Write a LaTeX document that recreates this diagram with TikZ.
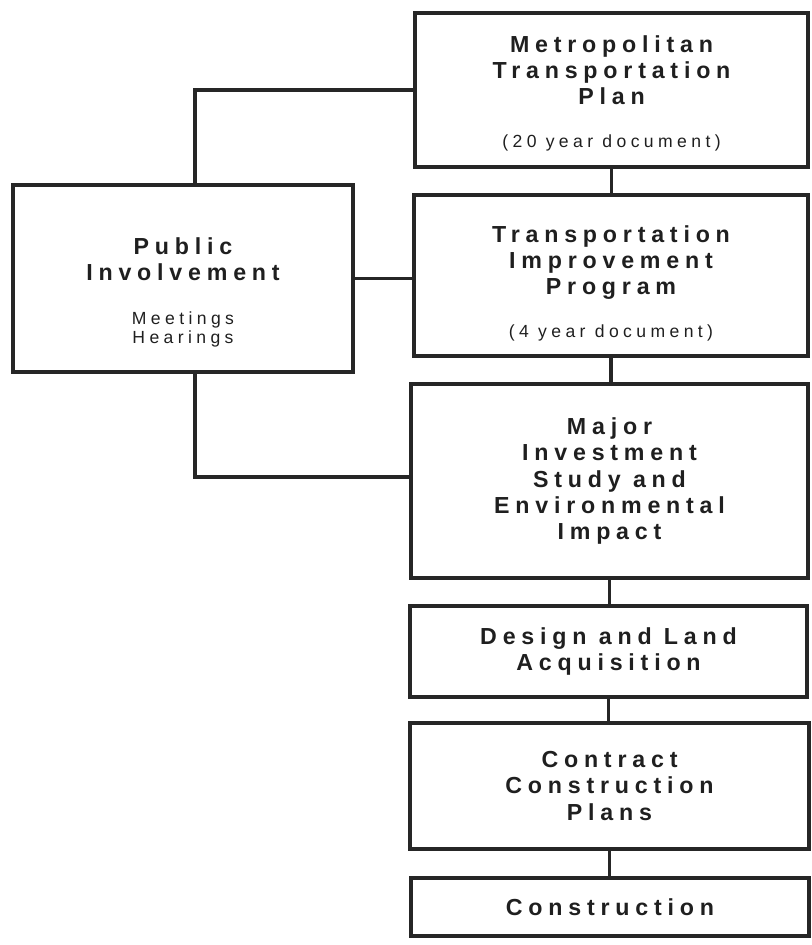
\documentclass[tikz,border=0pt]{standalone}
\usepackage{fontspec}
\setmainfont[LetterSpace=25]{Liberation Sans}
\newcommand{\docnote}[1]{{\fontsize{12.5}{13.5}\selectfont\mdseries #1}}
\newcommand{\padtop}[1]{\rule{0pt}{#1}}

\begin{document}
\begin{tikzpicture}[x=0.025cm, y=-0.025cm,
  stage/.style={draw=black!85, line width=2.4pt, align=center, inner sep=0pt,
    font=\fontsize{16.5}{18.5}\selectfont\bfseries, text=black!88},
  link/.style={draw=black!85, line width=2.2pt}]
\useasboundingbox (0,0) rectangle (811,945);
\node[stage, minimum width=9.825cm, minimum height=3.85cm] (plan) at (611.5,90)
  {\padtop{17pt}Metropolitan\\Transportation\\Plan\\[12pt]\docnote{(20 year document)}};
\node[stage, minimum width=9.85cm, minimum height=4.025cm] (tip) at (611,275.5)
  {\padtop{23pt}Transportation\\Improvement\\Program\\[12.5pt]\docnote{(4 year document)}};
\node[stage, minimum width=9.925cm, minimum height=4.85cm] (mis) at (609.5,481)
  {Major\\Investment\\Study and\\Environmental\\Impact}; % study
\node[stage, minimum width=9.925cm, minimum height=2.275cm] (design) at (608.5,651.5)
  {Design and Land\\Acquisition};
\node[stage, minimum width=9.975cm, minimum height=3.15cm] (plans) at (609.5,786)
  {Contract\\Construction\\Plans};
\node[stage, minimum width=9.95cm, minimum height=1.45cm] (build) at (610,907)
  {Construction}; % main chain
\node[stage, minimum width=8.5cm, minimum height=4.675cm] (public) at (183,278.5)
  {\padtop{33pt}Public\\Involvement\\[13pt]\docnote{\begin{tabular}[t]{@{}c@{}}Meetings\\Hearings\end{tabular}}};
\draw[link] (plan.south) -- (plan.south |- tip.north);
\draw[link] (tip.south) -- (tip.south |- mis.north);
\draw[link] (mis.south) -- (mis.south |- design.north);
\draw[link] (design.south) -- (design.south |- plans.north);
\draw[link] (plans.south) -- (plans.south |- build.north); % chain links
\draw[link] ([xshift=0.3cm]public.north) |- (plan.west);
\draw[link] (public.east) -- (public.east -| tip.west);
\draw[link] ([xshift=0.3cm]public.south) |- ([yshift=0.1cm]mis.west); % public links
\end{tikzpicture}
\end{document}
